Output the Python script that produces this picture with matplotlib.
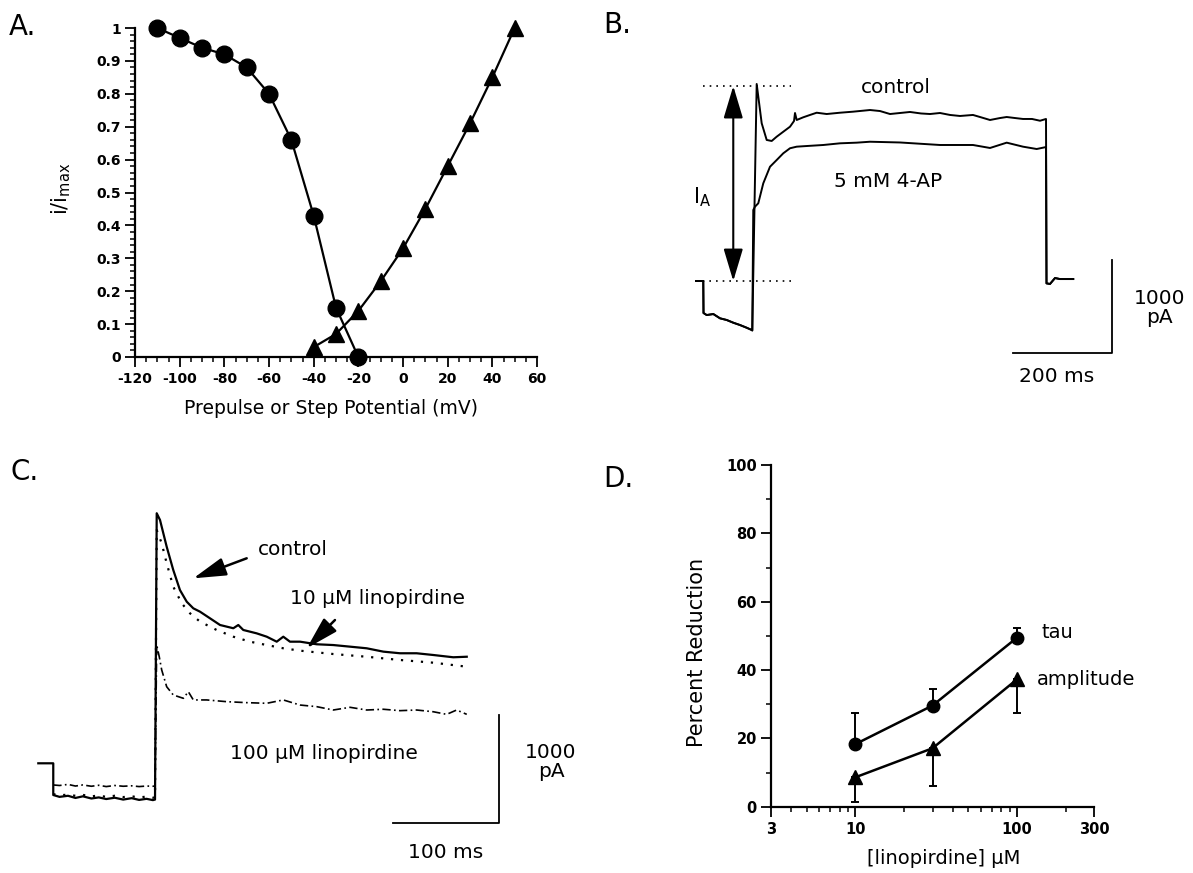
import matplotlib
matplotlib.use("Agg")
import matplotlib.pyplot as plt
from matplotlib.ticker import MultipleLocator, FixedLocator, NullFormatter, FixedFormatter

# ---- data ----
# A: steady-state inactivation (circles) and activation (triangles)
inact_mv = [-110, -100, -90, -80, -70, -60, -50, -40, -30, -20]
inact_i = [1.0, 0.97, 0.94, 0.92, 0.88, 0.80, 0.66, 0.43, 0.15, 0.0]
act_mv = [-40, -30, -20, -10, 0, 10, 20, 30, 40, 50]
act_i = [0.03, 0.07, 0.14, 0.23, 0.33, 0.45, 0.58, 0.71, 0.85, 1.0]

# B: current traces (ms, pA); prepulse and tail shared by both traces
b_pre_t = [0, 14.7, 15.2, 21.6, 35, 48.5, 62, 75.3, 88.9, 102.4, 112.5, 113.7]
b_pre_i = [0, 0, -343, -365, -354, -400, -418, -447, -472, -501, -525, -530]
b_ctrl_t = [122.6, 132.7, 142.8, 152.9, 163, 176.3, 189.9, 198, 200, 203.4, 216.7, 230.3, 243.8,
            264, 290.9, 317, 351.5, 371.7, 391.9, 412.1, 432.3, 454.5, 472.7, 492.9, 513.1,
            533.3, 559.5, 573.7, 593.9, 614.1, 627.6, 644.4, 660.5, 678.7, 694.9, 707]
b_ctrl_i = [2112, 1691, 1512, 1501, 1547, 1600, 1654, 1715, 1801, 1726, 1755, 1780, 1804,
            1790, 1804, 1815, 1833, 1822, 1790, 1801, 1812, 1796, 1790, 1801, 1780,
            1769, 1780, 1758, 1726, 1747, 1758, 1747, 1737, 1737, 1718, 1737]
b_4ap_t = [115.7, 119.2, 125.8, 135.9, 149.5, 163, 176.3, 189.9, 203.4, 223.6, 257.1, 290.9,
           324.6, 351.5, 412.1, 492.9, 559.5, 593.9, 627.6, 660.5, 688.2, 707]
b_4ap_i = [761, 797, 833, 1047, 1225, 1297, 1369, 1423, 1440, 1447, 1458, 1476,
           1483, 1493, 1485, 1458, 1458, 1426, 1483, 1440, 1415, 1436]
b_tail_t = [708, 715, 725.2, 735, 762]
b_tail_i = [-25, -32, 32, 21, 21]
b_ia_peak = 2090

# C: current traces (ms, pA)
c_hold_t = [0, 14.1]
c_hold_i = [0, 0]
c_pre_t = [14.1, 20, 28, 35, 42, 50, 57, 64, 72, 80, 88, 95, 102, 108, 110]
c_ctrl_pre = [-293, -310, -300, -320, -305, -325, -315, -330, -318, -335, -322, -338, -328, -340, -335]
c_10_pre = [-285, -295, -290, -300, -292, -305, -298, -310, -300, -312, -305, -315, -308, -318, -315]
c_100_pre = [-200, -205, -195, -210, -200, -212, -203, -215, -205, -212, -208, -215, -210, -212, -210]
c_ctrl_t = [111.6, 114.7, 121, 127.2, 133.5, 139.9, 146.1, 152.4, 161.8, 171.3, 183.8, 188.5,
            193.2, 205.8, 215.3, 224.7, 230.9, 237.2, 246.7, 262.4, 278, 293.8, 309.5, 325.2,
            340.9, 356.6, 372.3, 391.1, 403.8]
c_ctrl_i = [2309, 2247, 2000, 1785, 1600, 1492, 1431, 1400, 1339, 1277, 1247, 1277,
            1231, 1200, 1169, 1123, 1169, 1123, 1123, 1099, 1092, 1077, 1062, 1031,
            1016, 1016, 1000, 979, 984]
c_10_t = [111.6, 116.3, 121, 127.2, 135.2, 143, 152.4, 168.1, 183.8, 199.5, 215.3, 230.9, 246.7,
          278, 309.5, 340.9, 372.3, 403.8]
c_10_i = [2154, 2031, 1847, 1631, 1477, 1385, 1308, 1231, 1169, 1123, 1092, 1062, 1040,
          1009, 984, 954, 929, 892]
c_100_t = [111.6, 114, 116.3, 121, 127.2, 136.7, 141.4, 146.1, 158.7, 177.6, 196.4, 215.3, 230.9,
           246.7, 262.4, 278, 293.8, 309.5, 325.2, 340.9, 356.6, 372.3, 384.9, 394.3, 403.8]
c_100_i = [1092, 984, 862, 707, 631, 600, 661, 585, 585, 569, 560, 554, 585,
           538, 523, 492, 517, 492, 499, 486, 492, 476, 452, 492, 452]

# D: percent reduction vs linopirdine concentration
conc = [10, 30, 100]
tau = [18.3, 29.6, 49.5]
tau_err = [9, 4.8, 2.7]
amp = [8.6, 17.1, 37.3]
amp_err = [7.1, 10.9, 10]

# ---- figure ----
W, H = 1193, 873
plt.rcParams['font.family'] = ['DejaVu Sans']
plt.rcParams['axes.unicode_minus'] = False
fig = plt.figure(figsize=(W / 100, H / 100), dpi=100)


def px_axes(x0, y0, x1, y1):
    return fig.add_axes([x0 / W, 1 - y1 / H, (x1 - x0) / W, (y1 - y0) / H])


def style_axis(ax, size):
    for s in ['top', 'right']:
        ax.spines[s].set_visible(False)
    for s in ['left', 'bottom']:
        ax.spines[s].set_linewidth(1.6)
    ax.tick_params(which='major', direction='out', length=7, width=1.3, labelsize=size)
    ax.tick_params(which='minor', direction='out', length=3.6, width=1.1)
    ax.tick_params(axis='x', which='major', pad=4)
    ax.tick_params(axis='y', which='major', pad=3)
    for lab in ax.get_xticklabels() + ax.get_yticklabels():
        lab.set_fontweight('bold')


# panel A
axA = px_axes(135, 28, 537, 357)
axA.plot(inact_mv, inact_i, '-', color='black', lw=1.6, marker='o', ms=12, clip_on=False)
axA.plot(act_mv, act_i, '-', color='black', lw=1.6, marker='^', ms=12, clip_on=False)
axA.set_xlim(-120, 60)
axA.set_ylim(0, 1)
axA.set_xticks(range(-120, 61, 20))
axA.set_yticks([0, 0.1, 0.2, 0.3, 0.4, 0.5, 0.6, 0.7, 0.8, 0.9, 1])
axA.set_yticklabels(['0', '0.1', '0.2', '0.3', '0.4', '0.5', '0.6', '0.7', '0.8', '0.9', '1'])
axA.xaxis.set_minor_locator(MultipleLocator(5))
axA.yaxis.set_minor_locator(MultipleLocator(0.02))
style_axis(axA, 10)
axA.set_xlabel('Prepulse or Step Potential (mV)', fontsize=13.5)
axA.xaxis.set_label_coords(0.488, -0.128)
axA.set_ylabel(r'i/i$_{\mathrm{max}}$', fontsize=15)
axA.yaxis.set_label_coords(-0.155, 0.51)

# panel B
axB = px_axes(680, 40, 1193, 420)
axB.set_xlim(-32.3, 1003.9)
axB.set_ylim(-1490, 2583.5)
axB.axis('off')
ctrl_t = b_pre_t + b_ctrl_t + b_tail_t
ctrl_i = b_pre_i + b_ctrl_i + b_tail_i
ap_t = b_pre_t + b_4ap_t + b_tail_t
ap_i = b_pre_i + b_4ap_i + b_tail_i
axB.plot(ctrl_t, ctrl_i, color='black', lw=1.4)
axB.plot(ap_t, ap_i, color='black', lw=1.4)
axB.plot([13.5, 191.3], [b_ia_peak, b_ia_peak], color='black', lw=1.2, ls=(0, (1, 3)))
axB.plot([0, 191.3], [0, 0], color='black', lw=1.2, ls=(0, (1, 3)))
axB.annotate('', xy=(75.3, b_ia_peak), xytext=(75.3, 0),
             arrowprops=dict(arrowstyle='<|-|>,head_length=1.0,head_width=0.3',
                             mutation_scale=20, color='black', lw=1.5, shrinkA=0, shrinkB=0))
axB.plot([839.7, 839.7, 639.7], [225, -775, -775], color='black', lw=1.3)
axB.text(12, 900, r'I$_{\mathrm{A}}$', fontsize=15, ha='center', va='center')
axB.text(403, 2069, 'control', fontsize=14.5, ha='center', va='center')
axB.text(388, 1065, '5 mM 4-AP', fontsize=14.5, ha='center', va='center')
axB.text(937, -289, '1000\npA', fontsize=14.5, ha='center', va='center', linespacing=1.0)
axB.text(729, -1026, '200 ms', fontsize=14.5, ha='center', va='center')

# panel C
axC = px_axes(0, 420, 600, 873)
axC.set_xlim(-36.1, 529.4)
axC.set_ylim(-1013, 3170)
axC.axis('off')
axC.plot(c_hold_t + c_pre_t + c_ctrl_t, c_hold_i + c_ctrl_pre + c_ctrl_i, color='black', lw=1.6)
axC.plot(c_pre_t + c_10_t, c_10_pre + c_10_i, color='black', lw=1.6, ls=(0, (1, 3.5)))
axC.plot(c_pre_t + c_100_t, c_100_pre + c_100_i, color='black', lw=1.2, ls=(0, (5, 2, 1, 2)))
arrow_style = dict(arrowstyle='-|>,head_length=1.0,head_width=0.28', mutation_scale=20,
                   color='black', lw=1.8, shrinkA=0, shrinkB=0)
axC.annotate('', xy=(146.1, 1708), xytext=(196.4, 1893), arrowprops=arrow_style)
axC.annotate('', xy=(253, 1062), xytext=(279.6, 1323), arrowprops=arrow_style)
axC.plot([434.6, 434.6, 334.6], [446, -554, -554], color='black', lw=1.3)
axC.text(240.3, 1970, 'control', fontsize=14.5, ha='center', va='center')
axC.text(319.7, 1524, '10 \u03bcM linopirdine', fontsize=14.5, ha='center', va='center')
axC.text(269.3, 92, '100 \u03bcM linopirdine', fontsize=14.5, ha='center', va='center')
axC.text(483.2, 15, '1000\npA', fontsize=14.5, ha='center', va='center', linespacing=1.0)
axC.text(384.3, -828, '100 ms', fontsize=14.5, ha='center', va='center')

# panel D
axD = px_axes(770.7, 465, 1094.3, 806.7)
axD.set_xscale('log')
axD.errorbar(conc, tau, yerr=[[0, 0, 0], tau_err], color='black', lw=1.8, marker='o', ms=9,
             capsize=2.8, elinewidth=1.4, capthick=1.4, clip_on=False)
axD.errorbar(conc, amp, yerr=[amp_err, [0, 0, 0]], color='black', lw=1.8, marker='^', ms=9.5,
             capsize=2.8, elinewidth=1.4, capthick=1.4, clip_on=False)
axD.set_xlim(3, 300)
axD.set_ylim(0, 100)
axD.xaxis.set_major_locator(FixedLocator([3, 10, 100, 300]))
axD.xaxis.set_major_formatter(FixedFormatter(['3', '10', '100', '300']))
axD.xaxis.set_minor_formatter(NullFormatter())
axD.set_yticks([0, 20, 40, 60, 80, 100])
axD.yaxis.set_minor_locator(MultipleLocator(10))
style_axis(axD, 10.5)
axD.set_ylabel('Percent Reduction', fontsize=15)
axD.yaxis.set_label_coords(-0.197, 0.45)
axD.set_xlabel('[linopirdine] \u03bcM', fontsize=14)
axD.xaxis.set_label_coords(0.536, -0.124)
axD.text(141.9, 50.9, 'tau', fontsize=14, ha='left', va='center')
axD.text(133.4, 37.1, 'amplitude', fontsize=14, ha='left', va='center')

# panel letters
for lbl, x, y in [('A.', 9, 27), ('B.', 603, 25), ('C.', 11, 472), ('D.', 603, 479)]:
    fig.text(x / W, 1 - y / H, lbl, fontsize=20, ha='left', va='center')

fig.savefig('out.png', dpi=100)
